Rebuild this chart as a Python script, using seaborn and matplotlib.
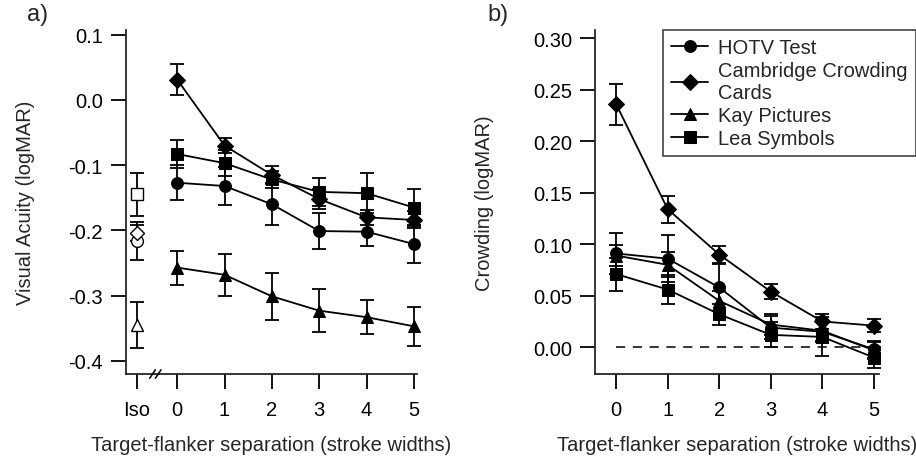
import seaborn as sns
import matplotlib.pyplot as plt
import pandas as pd
import numpy as np

sns.set_style('ticks')
plt.rcParams['font.family'] = ['Liberation Sans', 'DejaVu Sans']

tests = ['HOTV Test', 'Cambridge Crowding\nCards', 'Kay Pictures', 'Lea Symbols']
markers = ['o', 'D', '^', 's']
separation = [0, 1, 2, 3, 4, 5]

# panel a: visual acuity (logMAR), flanked
acuity_hotv = [-0.127, -0.132, -0.160, -0.201, -0.202, -0.221]
acuity_ccc = [0.031, -0.070, -0.115, -0.152, -0.180, -0.184]
acuity_kay = [-0.257, -0.268, -0.301, -0.323, -0.333, -0.347]
acuity_lea = [-0.083, -0.097, -0.122, -0.141, -0.143, -0.165]
acuity_err_hotv = [0.027, 0.029, 0.031, 0.027, 0.022, 0.029]
acuity_err_ccc = [0.024, 0.012, 0.013, 0.015, 0.012, 0.013]
acuity_err_kay = [0.026, 0.032, 0.036, 0.033, 0.026, 0.030]
acuity_err_lea = [0.021, 0.020, 0.013, 0.022, 0.031, 0.028]

# isolated acuity
iso_acuity = [-0.216, -0.204, -0.345, -0.145]
iso_err = [0.029, 0.013, 0.035, 0.033]
iso_pos = -0.85

# panel b: crowding (logMAR)
crowd_hotv = [0.091, 0.086, 0.058, 0.019, 0.015, -0.002]
crowd_ccc = [0.236, 0.134, 0.090, 0.054, 0.025, 0.021]
crowd_kay = [0.089, 0.080, 0.045, 0.022, 0.016, -0.003]
crowd_lea = [0.071, 0.056, 0.032, 0.012, 0.010, -0.010]
crowd_err_hotv = [0.020, 0.023, 0.023, 0.011, 0.010, 0.008]
crowd_err_ccc = [0.020, 0.013, 0.008, 0.007, 0.007, 0.006]
crowd_err_kay = [0.010, 0.012, 0.010, 0.010, 0.010, 0.008]
crowd_err_lea = [0.016, 0.014, 0.010, 0.012, 0.019, 0.010]

acuity = [acuity_hotv, acuity_ccc, acuity_kay, acuity_lea]
acuity_err = [acuity_err_hotv, acuity_err_ccc, acuity_err_kay, acuity_err_lea]
crowd = [crowd_hotv, crowd_ccc, crowd_kay, crowd_lea]
crowd_err = [crowd_err_hotv, crowd_err_ccc, crowd_err_kay, crowd_err_lea]

FS = 14.5


def long_df(values):
    rows = []
    for t, vals in zip(tests, values):
        for s, v in zip(separation, vals):
            rows.append({'test': t, 'sep': s, 'val': v})
    return pd.DataFrame(rows)


fig = plt.figure(figsize=(9.16, 4.6), dpi=100)
ax_a = fig.add_axes([0.1376, 0.1848, 0.3174, 0.7478])
ax_b = fig.add_axes([0.6496, 0.1848, 0.3100, 0.7478])

mk = dict(zip(tests, markers))
for ax, values, errs in [(ax_a, acuity, acuity_err), (ax_b, crowd, crowd_err)]:
    df = long_df(values)
    sns.lineplot(data=df, x='sep', y='val', style='test', markers=mk, dashes=False,
                 color='black', linewidth=1.3, markersize=8.5, markeredgecolor='black',
                 ax=ax, legend=(ax is ax_b), clip_on=False, zorder=3)
    for vals, e in zip(values, errs):
        ax.errorbar(separation, vals, yerr=e, fmt='none', ecolor='black',
                    elinewidth=1.3, capsize=5, capthick=1.3, clip_on=False, zorder=2)

# isolated, open symbols
for m, v, e in zip(markers, iso_acuity, iso_err):
    ax_a.errorbar([iso_pos], [v], yerr=e, fmt=m, mfc='white', mec='black', color='black',
                  ms=8.5 if m != 'D' else 7.5, elinewidth=1.3, capsize=5, capthick=1.3,
                  clip_on=False, zorder=3)

ax_b.plot([0, 5], [0, 0], ls=(0, (6, 5)), color='black', lw=1.1, zorder=1)

# axes styling
ax_a.set_xlim(-1.08, 5.06)
ax_a.set_ylim(-0.42, 0.107)
ax_a.set_xticks([iso_pos] + separation)
ax_a.set_xticklabels(['Iso'] + [str(s) for s in separation])
ax_a.set_yticks([0.1, 0.0, -0.1, -0.2, -0.3, -0.4])
ax_a.set_yticklabels(['0.1', '0.0', '-0.1', '-0.2', '-0.3', '-0.4'])
ax_a.set_ylabel('Visual Acuity (logMAR)', fontsize=FS, labelpad=24)

ax_b.set_xlim(-0.41, 5.1)
ax_b.set_ylim(-0.026, 0.308)
ax_b.set_xticks(separation)
ax_b.set_yticks([0.0, 0.05, 0.10, 0.15, 0.20, 0.25, 0.30])
ax_b.set_yticklabels(['0.00', '0.05', '0.10', '0.15', '0.20', '0.25', '0.30'])
ax_b.set_ylabel('Crowding (logMAR)', fontsize=FS, labelpad=28)

for ax in (ax_a, ax_b):
    sns.despine(ax=ax)
    ax.spines['left'].set_linewidth(1.3)
    ax.spines['bottom'].set_linewidth(1.3)
    ax.tick_params(direction='out', length=10.5, width=1.3, labelsize=FS, colors='black', pad=6)
    ax.tick_params(axis='x', pad=8)
    ax.set_xlabel('Target-flanker separation (stroke widths)', fontsize=FS, labelpad=12)

# axis break marks
for dx in (-0.06, 0.06):
    x0 = -0.46 + dx
    ax_a.plot([x0 - 0.06, x0 + 0.06], [-0.4265, -0.4135], color='black', lw=1.1,
              clip_on=False, zorder=5)

fig.text(0.029, 0.967, 'a)', fontsize=17, va='center')
fig.text(0.532, 0.967, 'b)', fontsize=17, va='center')

handles, labels = ax_b.get_legend_handles_labels()
leg = ax_b.legend(handles, labels, loc='upper left', bbox_to_anchor=(0.7238, 0.9326),
                  bbox_transform=fig.transFigure, frameon=True, fancybox=False,
                  edgecolor='black', fontsize=FS, handlelength=1.85, borderpad=0.4,
                  labelspacing=0.2, handletextpad=0.5, borderaxespad=0)
leg.get_frame().set_linewidth(1.1)

fig.savefig('out.png', dpi=100)
